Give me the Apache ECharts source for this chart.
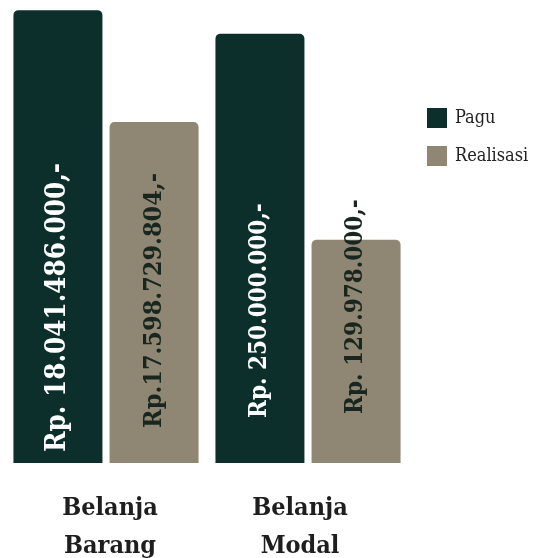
<!DOCTYPE html>
<html>
<head>
<meta charset="utf-8">
<style>
  html, body { margin: 0; padding: 0; background: #ffffff; }
  #chart { width: 538px; height: 558px; }
</style>
<script src="https://cdn.jsdelivr.net/npm/echarts@6/dist/echarts.min.js"></script>
</head>
<body>
<div id="chart"></div>
<script>
// Anggaran belanja: pagu vs realisasi (Rupiah)
const categories = ['Belanja\nBarang', 'Belanja\nModal'];
const seriesNames = ['Pagu', 'Realisasi'];
const pagu = [18041486000, 250000000];
const realisasi = [17598729804, 129978000];

const COLOR_PAGU = '#0c2f2b';
const COLOR_REAL = '#8f8773';
const FONT = '"DejaVu Serif Condensed", "DejaVu Serif", serif';

// Rupiah format: Rp. 18.041.486.000,-
function rupiah(v, prefix) {
  const s = String(Math.round(v)).replace(/\B(?=(\d{3})+(?!\d))/g, '.');
  return prefix + s + ',-';
}

// each spending type gets its own panel and value scale
const panels = [
  { left: 5, yMin: 16.25e9, yMax: 18.05e9, prefix: ['Rp. ', 'Rp.'], dist: [11, 35], size: [27.5, 25],
    labelPad: [0, 0, 0, 8] },
  { left: 207, yMin: 0, yMax: 265e6, prefix: ['Rp. ', 'Rp. '], dist: [45, 49], size: [24, 24],
    labelPad: [0, 16, 0, 0] }
];

const grids = [], xAxes = [], yAxes = [], series = [];
panels.forEach(function (p, i) {
  grids.push({ left: p.left, width: 202, top: 8, bottom: 95, outerBoundsMode: 'none', containLabel: false });
  xAxes.push({
    type: 'category', gridIndex: i, data: [categories[i]],
    axisLine: { show: false }, axisTick: { show: false },
    axisLabel: {
      color: '#1e1e1e', fontFamily: FONT, fontWeight: 'bold',
      fontSize: 25, lineHeight: 38, margin: 26, padding: p.labelPad
    }
  });
  yAxes.push({ type: 'value', gridIndex: i, min: p.yMin, max: p.yMax, show: false });
  [pagu, realisasi].forEach(function (vals, k) {
    series.push({
      type: 'bar', name: seriesNames[k],
      xAxisIndex: i, yAxisIndex: i,
      data: [vals[i]],
      barWidth: 89, barGap: '8%',
      itemStyle: { color: k === 0 ? COLOR_PAGU : COLOR_REAL, borderRadius: [5, 5, 0, 0] },
      label: {
        show: true, position: 'insideBottom', rotate: 90,
        align: 'left', verticalAlign: 'middle', distance: p.dist[k],
        color: k === 0 ? '#ffffff' : '#18261f',
        fontFamily: FONT, fontWeight: 'bold', fontSize: p.size[k],
        formatter: function (d) { return rupiah(d.value, p.prefix[k]); }
      },
      emphasis: { disabled: true }
    });
  });
});

const chart = echarts.init(document.getElementById('chart'));
chart.setOption({
  animation: false,
  legend: {
    data: seriesNames, orient: 'vertical', left: 422, top: 103,
    icon: 'rect', itemWidth: 20, itemHeight: 20, itemGap: 18,
    textStyle: { fontFamily: FONT, fontSize: 18, color: '#222222', padding: [0, 0, 0, 3] }
  },
  grid: grids, xAxis: xAxes, yAxis: yAxes, series: series
});
</script>
</body>
</html>
